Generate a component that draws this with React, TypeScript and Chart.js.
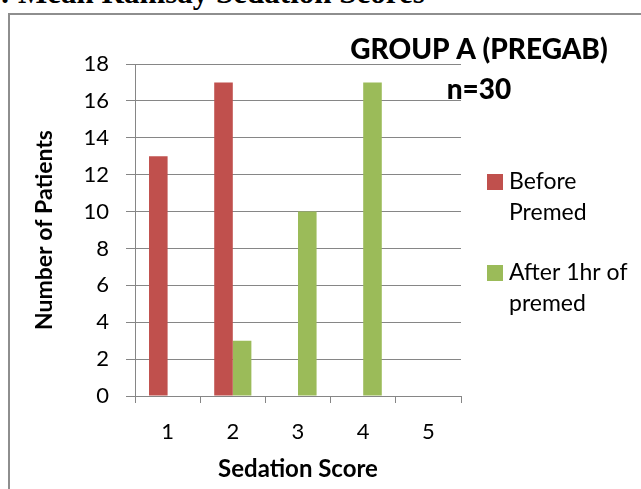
import React, { useEffect, useRef } from 'react';
import { Chart, registerables } from 'chart.js';

Chart.register(...registerables);

// ---- data ----
const categories = ['1', '2', '3', '4', '5'];
const beforePremed = [13, 17, 0, 0, 0];
const afterPremed = [0, 3, 10, 17, 0];
const seriesNames = ['Before Premed', 'After 1hr of premed'];
const legendLines = [['Before', 'Premed'], ['After 1hr of', 'premed']];
const seriesColors = ['#C0504D', '#9BBB59'];
const groupTitle = ['GROUP A (PREGAB)', 'n=30'];
const pageTitle = ': Mean Ramsay Sedation Scores';
const yTitle = 'Number of Patients';
const xTitle = 'Sedation Score';
const yMin = 0;
const yMax = 18;
const yStep = 2;

const FONT = 'Lato';
const GRID = '#868686';

const overlayPlugin = {
  id: 'overlay',
  afterDraw(chart: any) {
    const ctx = chart.ctx;
    const area = chart.chartArea;
    ctx.save();
    ctx.fillStyle = '#000';
    // group title
    ctx.textAlign = 'center';
    ctx.textBaseline = 'middle';
    ctx.font = `900 28px ${FONT}`;
    groupTitle.forEach((t, i) => ctx.fillText(t, 479, 50 + i * 40));
    // legend
    ctx.textAlign = 'left';
    ctx.font = `23px ${FONT}`;
    const bx = area.right + 26;
    chart.data.datasets.forEach((ds: any, i: number) => {
      const top = 174 + i * 91;
      ctx.fillStyle = ds.backgroundColor;
      ctx.fillRect(bx, top, 16, 16);
      ctx.fillStyle = '#000';
      legendLines[i].forEach((line, j) => ctx.fillText(line, bx + 22, top + 8 + j * 31));
    });
    ctx.restore();
  },
};

export default function App() {
  const ref = useRef<HTMLCanvasElement>(null);
  useEffect(() => {
    document.body.style.margin = '0';
    document.body.style.overflow = 'hidden';
    const chart = new Chart(ref.current as HTMLCanvasElement, {
      type: 'bar',
      data: {
        labels: categories,
        datasets: [
          { label: seriesNames[0], data: beforePremed, backgroundColor: seriesColors[0], borderWidth: 0 },
          { label: seriesNames[1], data: afterPremed, backgroundColor: seriesColors[1], borderWidth: 0 },
        ],
      },
      options: {
        responsive: false,
        animation: false,
        layout: { padding: { left: 0, top: 64, right: 180, bottom: 0 } },
        datasets: { bar: { barPercentage: 1, categoryPercentage: 0.57 } },
        plugins: { legend: { display: false }, tooltip: { enabled: false }, title: { display: false } },
        scales: {
          x: {
            grid: { display: true, drawOnChartArea: false, drawTicks: true, tickLength: 7, color: GRID, offset: true },
            border: { display: true, color: GRID, width: 1 },
            ticks: { padding: 16, color: '#000', font: { family: FONT, size: 22 } },
            title: {
              display: true, text: xTitle, color: '#000',
              font: { family: FONT, size: 24, weight: 'bold' }, padding: { top: 0, bottom: 5 },
            },
            afterFit: (s: any) => { s.height = 93; },
          },
          y: {
            min: yMin, max: yMax,
            grid: { color: GRID, tickLength: 9 },
            border: { display: true, color: GRID, width: 1 },
            ticks: { stepSize: yStep, padding: 17, color: '#000', font: { family: FONT, size: 22 } },
            title: {
              display: true, text: yTitle, color: '#000',
              font: { family: FONT, size: 23, weight: 'bold' }, padding: { top: 31, bottom: 0 },
            },
            afterFit: (s: any) => { s.width = 135; },
          },
        },
      } as any,
      plugins: [overlayPlugin],
    });
    return () => chart.destroy();
  }, []);

  return (
    <div style={{ position: 'fixed', left: 0, top: 0, width: 641, height: 489, overflow: 'hidden', background: '#fff' }}>
      <div
        style={{
          position: 'absolute', left: 0, top: -23, whiteSpace: 'nowrap',
          font: "bold 31px 'Liberation Serif', 'Times New Roman', serif", lineHeight: '31px', color: '#000',
        }}
      >
        {pageTitle}
      </div>
      <div
        style={{
          position: 'absolute', left: 8, top: 13, width: 700, height: 600,
          border: '2px solid #8e8e8e', boxSizing: 'border-box',
        }}
      />
      <canvas
        ref={ref}
        width={641}
        height={489}
        style={{ position: 'absolute', left: 0, top: 0, width: 641, height: 489 }}
      />
    </div>
  );
}
